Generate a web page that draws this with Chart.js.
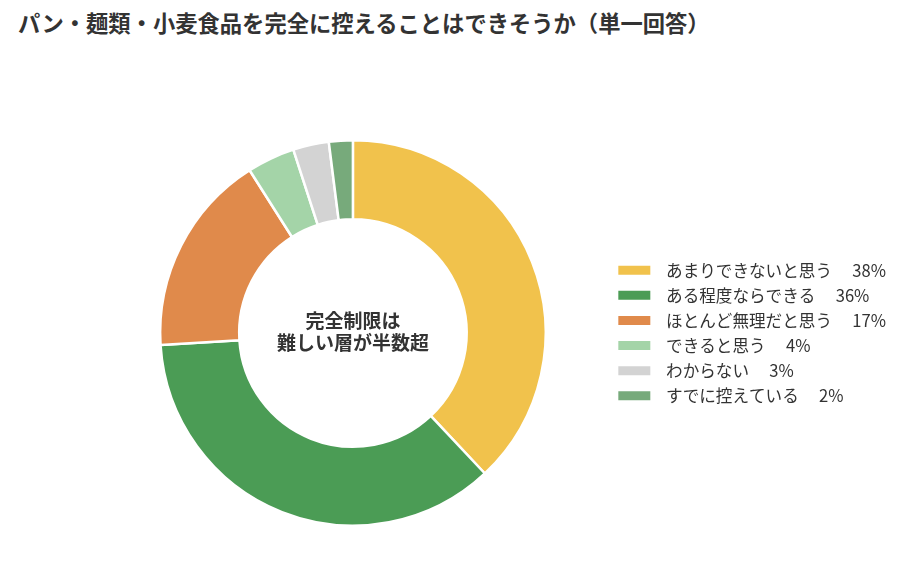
<!DOCTYPE html>
<html lang="ja"><head>
<meta charset="utf-8">
<title>小麦食品アンケート</title>
<style type="text/css">
body { margin:0; background:#ffffff; }
#wrap { position:relative; width:900px; height:588px; }
#title { position:absolute; left:18px; top:6px; font-family:"Noto Sans CJK JP",sans-serif;
         font-size:22.3px; font-weight:bold; color:#333333; white-space:nowrap; }
#myChart { position:absolute; left:0; top:0; }
</style>
<script src="https://cdn.jsdelivr.net/npm/chart.js"></script>
<script>
// 回答データ（単一回答、%）
labels=['あまりできないと思う','ある程度ならできる','ほとんど無理だと思う','できると思う','わからない','すでに控えている'];
values=[38,36,17,4,3,2];
colors=['#f1c24c','#4b9c55','#e08a4b','#a4d4a8','#d3d3d3','#77aa7b'];
centerLines=['完全制限は','難しい層が半数超'];

centerText={id:'centerText',afterDraw:function(chart){
  var ctx=chart.ctx, a=chart.chartArea;
  var cx=(a.left+a.right)/2, cy=(a.top+a.bottom)/2;
  ctx.save();
  ctx.font='bold 19px "Noto Sans CJK JP"';
  ctx.fillStyle='#333333'; ctx.textAlign='center'; ctx.textBaseline='middle';
  ctx.fillText(centerLines[0],cx,cy-12);
  ctx.fillText(centerLines[1],cx,cy+10);
  ctx.restore(); }};

function initChart() {
  Chart.defaults.font.family='"Noto Sans CJK JP",sans-serif';
  myChart=new Chart(document.getElementById('myChart'),{
    type:'doughnut',
    data:{labels:labels,datasets:[{data:values,backgroundColor:colors,
      borderColor:'#ffffff',borderWidth:2.5}]},
    options:{responsive:false,animation:false,cutout:'59%',
      layout:{padding:{left:96,top:139,bottom:61,right:4}},
      plugins:{
        tooltip:{enabled:false},
        legend:{position:'right',labels:{
          boxWidth:32,boxHeight:9,padding:8.5,color:'#333333',font:{size:16.6},
          generateLabels:function(chart){
            return labels.map(function(l,i){
              return {text:'  '+l+'　 '+values[i]+'%',fillStyle:colors[i],
                strokeStyle:colors[i],lineWidth:0,hidden:false,index:i,fontColor:'#333333'}; }); }}}}},
    plugins:[centerText]}); }
</script></head>
<body onload="initChart();">
<div id="wrap">
  <div id="title">パン・麺類・小麦食品を完全に控えることはできそうか（単一回答）</div>
  <canvas id="myChart" width="900" height="588"></canvas>
</div>
</body></html>
